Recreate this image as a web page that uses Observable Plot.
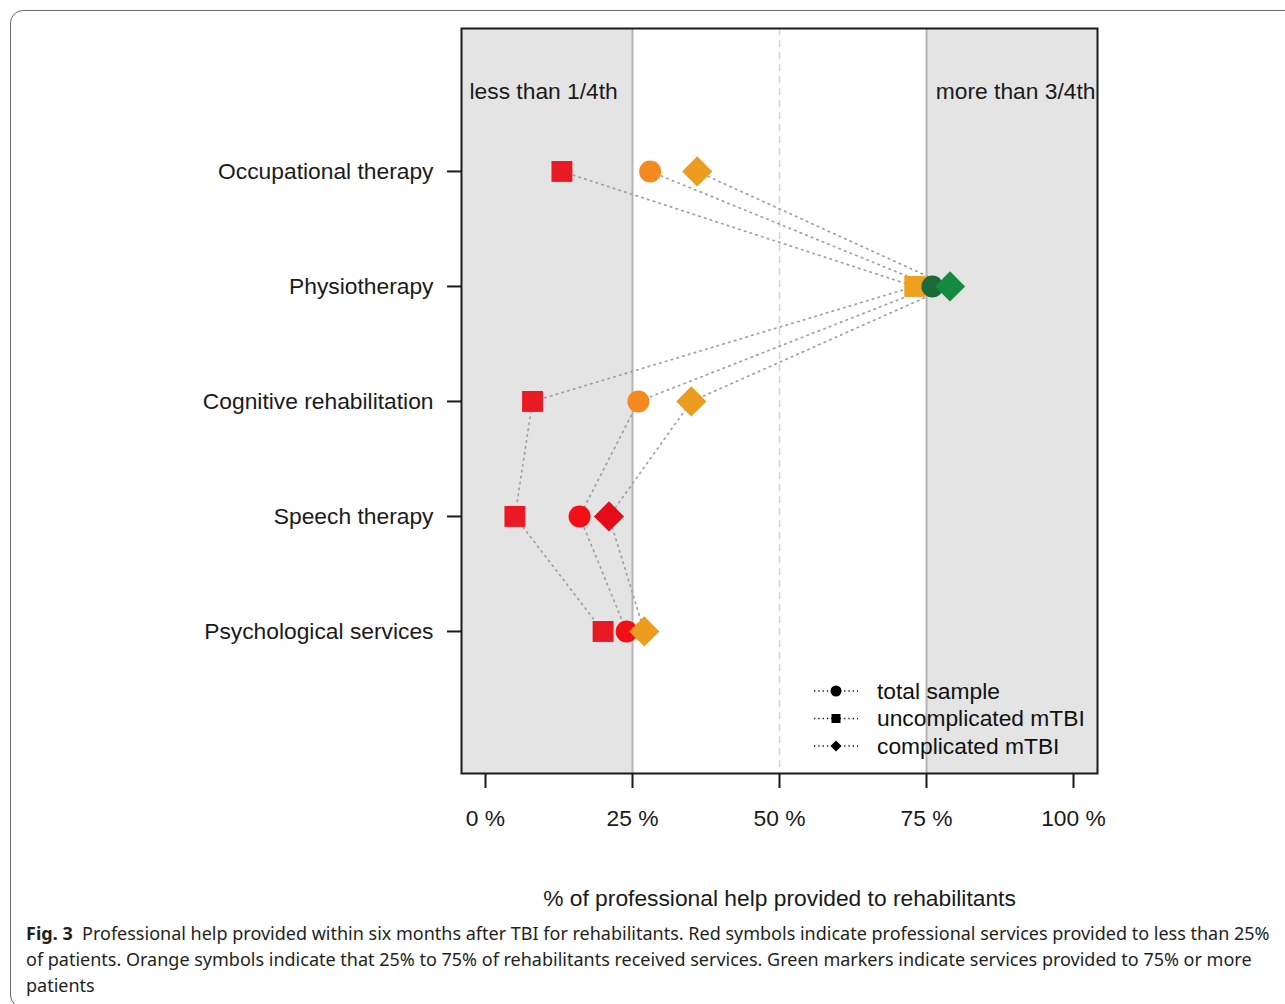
<!DOCTYPE html>
<html>
<head>
<meta charset="utf-8">
<script src="https://cdn.jsdelivr.net/npm/d3@7"></script>
<script src="https://cdn.jsdelivr.net/npm/@observablehq/plot@0.6"></script>
<style>
  html, body { margin: 0; padding: 0; background: #fff; overflow: hidden; }
  #page { position: relative; width: 1285px; height: 1004px; }
  #frame { position: absolute; left: 10px; top: 10px; width: 1300px; height: 998px;
           border: 1.5px solid #6a6a6a; border-radius: 13px; box-sizing: border-box; }
  #chart { position: absolute; left: 0; top: 0; }
  #legend { position: absolute; left: 0; top: 0; pointer-events: none; }
  #caption { position: absolute; left: 26px; top: 920px; width: 1255px;
             font-family: "Noto Sans", "Open Sans", sans-serif; font-size: 18px; line-height: 26px;
             color: #231f20; white-space: nowrap; }
  #caption b { font-weight: 700; }
</style>
</head>
<body>
<div id="page">
  <div id="frame"></div>
  <div id="chart"></div>
  <svg id="legend" width="1285" height="1004"></svg>
  <div id="caption"></div>
</div>
<script>
// ---- data ----
const categories = ["Occupational therapy", "Physiotherapy", "Cognitive rehabilitation", "Speech therapy", "Psychological services"];
const totalSample = [28, 76, 26, 16, 24];
const uncomplicated = [13, 73, 8, 5, 20];
const complicated = [36, 79, 35, 21, 27];
const xTicks = [0, 25, 50, 75, 100];
const thresholds = [25, 75];
const seriesNames = ["total sample", "uncomplicated mTBI", "complicated mTBI"];
const xTitle = "% of professional help provided to rehabilitants";
const leftNote = "less than 1/4th";
const rightNote = "more than 3/4th";

// ---- styles ----
const palettes = {
  "total sample":       {red: "#f20f17", orange: "#f5891f", green: "#1b6a35", symbol: "circle", r: 11},
  "uncomplicated mTBI": {red: "#ea1a24", orange: "#f0a020", green: "#1b6a35", symbol: "square", r: 11.8},
  "complicated mTBI":   {red: "#e50c1a", orange: "#ec9c1e", green: "#138a3f", symbol: "diamond2", r: 13.6}
};
function colorFor(series, v) {
  const p = palettes[series];
  return v < thresholds[0] ? p.red : (v < thresholds[1] ? p.orange : p.green);
}

const rows = [];
[["total sample", totalSample], ["uncomplicated mTBI", uncomplicated], ["complicated mTBI", complicated]]
  .forEach(([name, vals]) => vals.forEach((v, i) => rows.push({series: name, cat: categories[i], i, v})));

const xMin = -4.08, xMax = 104.08;
const font = "'Liberation Sans', Arial, Helvetica, sans-serif";
const fs = 22.8;

const plot = Plot.plot({
  width: 1285,
  height: 915,
  marginLeft: 461,
  marginRight: 188,
  marginTop: 28,
  marginBottom: 142,
  style: {fontFamily: font, fontSize: fs + "px", color: "#1a1a1a", background: "transparent"},
  x: {domain: [xMin, xMax]},
  y: {domain: [5.235, -1.243]},
  marks: [
    Plot.rectX([{a: xMin, b: thresholds[0]}, {a: thresholds[1], b: xMax}], {x1: "a", x2: "b", fill: "#e4e4e4"}),
    Plot.ruleX(thresholds, {stroke: "#b4b4b4", strokeWidth: 2}),
    Plot.ruleX([50], {stroke: "#d2d2d2", strokeWidth: 1.5, strokeDasharray: "7,5"}),
    Plot.line(rows, {x: "v", y: "i", z: "series", stroke: "#a0a0a0", strokeWidth: 1.7, strokeDasharray: "1.4,4.6"}),
    ...["uncomplicated mTBI", "total sample", "complicated mTBI"].map(s =>
      Plot.dot(rows.filter(d => d.series === s), {
        x: "v", y: "i", symbol: () => palettes[s].symbol, r: palettes[s].r,
        fill: d => colorFor(s, d.v), stroke: "none"
      })),
    Plot.frame({stroke: "#1a1a1a", strokeWidth: 2}),
    Plot.text([leftNote], {frameAnchor: "top-left", textAnchor: "start", lineAnchor: "middle", dx: 8, dy: 63, fontSize: fs, fill: "#1a1a1a"}),
    Plot.text([rightNote], {frameAnchor: "top-right", textAnchor: "end", lineAnchor: "middle", dx: -2, dy: 63, fontSize: fs, fill: "#1a1a1a"}),
    Plot.axisX({ticks: xTicks, tickFormat: d => d + " %", tickSize: 15, tickPadding: 21, strokeWidth: 2, label: null, fontSize: fs}),
    Plot.axisY({ticks: d3.range(categories.length), tickFormat: i => categories[i], tickSize: 14, tickPadding: 14, strokeWidth: 2, label: null, fontSize: fs}),
    Plot.text([xTitle], {frameAnchor: "bottom", lineAnchor: "middle", dy: 125, fontSize: fs, fill: "#1a1a1a"})
  ]
});
document.getElementById("chart").appendChild(plot);

// ---- legend (inside plot, bottom right) ----
const leg = d3.select("#legend");
const legX = 836, legY0 = 691, legStep = 27.5;
const legSymbols = {"total sample": "circle", "uncomplicated mTBI": "square", "complicated mTBI": "diamond"};
seriesNames.forEach((name, k) => {
  const y = legY0 + k * legStep;
  leg.append("line").attr("x1", legX - 22).attr("x2", legX + 22).attr("y1", y).attr("y2", y)
    .attr("stroke", "#111").attr("stroke-width", 1.3).attr("stroke-dasharray", "1.3,3");
  const sym = legSymbols[name];
  if (sym === "circle") leg.append("circle").attr("cx", legX).attr("cy", y).attr("r", 5.5).attr("fill", "#000");
  else if (sym === "square") leg.append("rect").attr("x", legX - 4.5).attr("y", y - 4.5).attr("width", 9).attr("height", 9).attr("fill", "#000");
  else leg.append("path").attr("d", `M${legX},${y-5.5}L${legX+5.5},${y}L${legX},${y+5.5}L${legX-5.5},${y}Z`).attr("fill", "#000");
  leg.append("text").attr("x", 877).attr("y", y).attr("dy", "0.35em").attr("font-family", font)
    .attr("font-size", fs).attr("fill", "#111").text(name);
});

// ---- caption ----
document.getElementById("caption").innerHTML =
  "<b>Fig. 3</b>&nbsp;&nbsp;Professional help provided within six months after TBI for rehabilitants. Red symbols indicate professional services provided to less than 25%<br>" +
  "of patients. Orange symbols indicate that 25% to 75% of rehabilitants received services. Green markers indicate services provided to 75% or more<br>" +
  "patients";
</script>
</body>
</html>
